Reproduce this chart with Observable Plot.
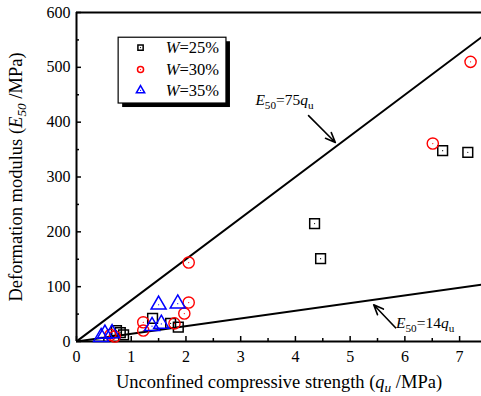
<!DOCTYPE html>
<html>
<head>
<meta charset="utf-8">
<script src="https://cdn.jsdelivr.net/npm/d3@7"></script>
<script src="https://cdn.jsdelivr.net/npm/@observablehq/plot@0.6"></script>
<style>
  html, body { margin: 0; padding: 0; background: #fff; }
  svg { font-family: "Liberation Serif", "Times New Roman", serif; }
</style>
</head>
<body>
<div id="chart"></div>
<script>
// ---- data ----
const q25 = [0.73, 0.80, 0.86, 1.39, 1.72, 1.86, 4.35, 4.46, 6.69, 7.15];
const E25 = [20, 16, 12, 42, 33, 26, 215, 151, 348, 345];
const q30 = [0.62, 0.70, 1.22, 1.22, 1.79, 1.97, 2.05, 2.05, 6.51, 7.20];
const E30 = [12, 9, 35, 20, 33, 51, 71, 144, 361, 510];
const q35 = [0.45, 0.52, 0.65, 1.38, 1.55, 1.50, 1.85];
const E35 = [8, 14, 15, 28, 32, 67, 69];
const slopes = [75, 14];
const xTicks = [0, 1, 2, 3, 4, 5, 6, 7];
const xMinor = [0.5, 1.5, 2.5, 3.5, 4.5, 5.5, 6.5];
const yTicks = [0, 100, 200, 300, 400, 500, 600];
const yMinor = [50, 150, 250, 350, 450, 550];
const seriesNames = ["W=25%", "W=30%", "W=35%"];
const xMax = 7.4;

// annotations (data coordinates)
const annoText = [
  {q: 3.80, E: 440, label: "E50=75qu"},
  {q: 6.37, E: 33, label: "E50=14qu"}
];
const annoArrows = [
  {x1: 4.24, y1: 412, x2: 4.73, y2: 363},
  {x1: 5.83, y1: 25, x2: 5.43, y2: 67}
];
const legendBox = {x1: 0.77, x2: 2.74, y1: 434, y2: 554};
const legendSymX = 1.17, legendTextX = 1.63;
const legendY = [536, 496, 458];

// ---- build tables ----
const d25 = q25.map((q, i) => ({q, E: E25[i]}));
const d30 = q30.map((q, i) => ({q, E: E30[i]}));
const d35 = q35.map((q, i) => ({q, E: E35[i]}));
const lineData = slopes.flatMap(s => [{s, q: 0, E: 0}, {s, q: xMax, E: s * xMax}]);
const legendData = seriesNames.map((name, i) => ({name, i, q: legendSymX, E: legendY[i]}));

const W = 481, H = 396, mL = 76, mR = 0, mT = 12, mB = 55;
const frameW = W - mL - mR, frameH = H - mT - mB;
const font = 16;

const plot = Plot.plot({
  width: W,
  height: H,
  marginLeft: mL,
  marginRight: mR,
  marginTop: mT,
  marginBottom: mB,
  style: {fontFamily: "Liberation Serif", fontSize: font + "px", color: "#000", background: "#fff"},
  x: {domain: [0, xMax]},
  y: {domain: [0, 600]},
  marks: [
    // frame lines (right side cropped in the reference)
    Plot.ruleY([0, 600], {stroke: "#000", strokeWidth: 2}),
    Plot.ruleX([0], {stroke: "#000", strokeWidth: 2}),
    // axes: labels
    Plot.axisX({ticks: xTicks, tickSize: 0, tickPadding: 9, label: null, fontSize: font}),
    Plot.axisY({ticks: yTicks, tickSize: 0, tickPadding: 6, label: null, fontSize: font}),
    // inward ticks
    Plot.tickX(xTicks, {x: d => d, insetTop: frameH - 5, stroke: "#000", strokeWidth: 1.5}),
    Plot.tickX(xMinor, {x: d => d, insetTop: frameH - 3, stroke: "#000", strokeWidth: 1.5}),
    Plot.tickY(yTicks, {y: d => d, insetRight: frameW - 5, stroke: "#000", strokeWidth: 1.5}),
    Plot.tickY(yMinor, {y: d => d, insetRight: frameW - 3, stroke: "#000", strokeWidth: 1.5}),
    // axis titles
    Plot.text(["XTITLE"], {frameAnchor: "bottom", dy: 41, fontSize: 18.5, textAnchor: "middle", lineAnchor: "middle"}),
    Plot.text(["YTITLE"], {frameAnchor: "left", dx: -60, rotate: -90, fontSize: 18.5, textAnchor: "middle", lineAnchor: "middle"}),
    // reference lines
    Plot.line(lineData, {x: "q", y: "E", z: "s", stroke: "#000", strokeWidth: 2, clip: true}),
    // annotations
    Plot.arrow(annoArrows, {x1: "x1", y1: "y1", x2: "x2", y2: "y2", stroke: "#000", strokeWidth: 1.6, headLength: 10, headAngle: 45}),
    Plot.text(annoText, {x: "q", y: "E", text: "label", fontSize: 15.5, textAnchor: "middle", lineAnchor: "middle"}),
    // data points
    Plot.dot(d25, {x: "q", y: "E", symbol: "square", r: 5.5, stroke: "#000", strokeWidth: 1.5, fill: "none"}),
    Plot.dot(d25, {x: "q", y: "E", r: 0.6, fill: "#000"}),
    Plot.dot(d30, {x: "q", y: "E", symbol: "circle", r: 5.6, stroke: "#ff0000", strokeWidth: 1.4, fill: "none"}),
    Plot.dot(d30, {x: "q", y: "E", r: 0.6, fill: "#ff0000"}),
    Plot.dot(d35, {x: "q", y: "E", symbol: "triangle", r: 5.6, stroke: "#0000ff", strokeWidth: 1.5, fill: "none"}),
    Plot.dot(d35, {x: "q", y: "E", r: 0.6, fill: "#0000ff"}),
    // legend
    Plot.rect([legendBox], {x1: "x1", x2: "x2", y1: "y1", y2: "y2", fill: "#000", dx: 4, dy: 4}),
    Plot.rect([legendBox], {x1: "x1", x2: "x2", y1: "y1", y2: "y2", fill: "#fff", stroke: "#000", strokeWidth: 1.2}),
    Plot.dot(legendData, {x: "q", y: "E", symbol: d => ["square", "circle", "triangle"][d.i], r: d => [4.8, 5, 5.2][d.i],
      stroke: d => ["#000", "#ff0000", "#0000ff"][d.i], strokeWidth: 1.5, fill: "none"}),
    Plot.dot(legendData, {x: "q", y: "E", r: 0.6, fill: d => ["#000", "#ff0000", "#0000ff"][d.i]}),
    Plot.text(legendData, {x: legendTextX, y: "E", text: "name", textAnchor: "start", lineAnchor: "middle", fontSize: 16.5})
  ]
});

document.getElementById("chart").appendChild(plot);

// ---- rich text (italics, subscripts) ----
const rich = {
  "XTITLE": [["Unconfined compressive strength ("], ["q", "i"], ["u", "is"], [" /MPa)"]],
  "YTITLE": [["Deformation modulus ("], ["E", "i"], ["50", "is"], [" /MPa)"]],
  "E50=75qu": [["E", "i"], ["50", "s"], ["=75"], ["q", "i"], ["u", "s"]],
  "E50=14qu": [["E", "i"], ["50", "s"], ["=14"], ["q", "i"], ["u", "s"]],
  "W=25%": [["W", "i"], ["=25%"]],
  "W=30%": [["W", "i"], ["=30%"]],
  "W=35%": [["W", "i"], ["=35%"]]
};
d3.select(plot).selectAll("text").each(function() {
  const el = this;
  const key = el.textContent;
  if (!rich[key]) return;
  const sel = d3.select(el);
  sel.text(null);
  let shifted = false;
  for (const [t, f = ""] of rich[key]) {
    const ts = sel.append("tspan").text(t);
    if (f.includes("i")) ts.attr("font-style", "italic");
    if (f.includes("s")) {
      ts.attr("font-size", "0.72em");
      if (!shifted) { ts.attr("dy", "0.3em"); shifted = true; }
    } else if (shifted) {
      ts.attr("dy", "-0.216em"); shifted = false;
    }
  }
});
</script>
</body>
</html>
